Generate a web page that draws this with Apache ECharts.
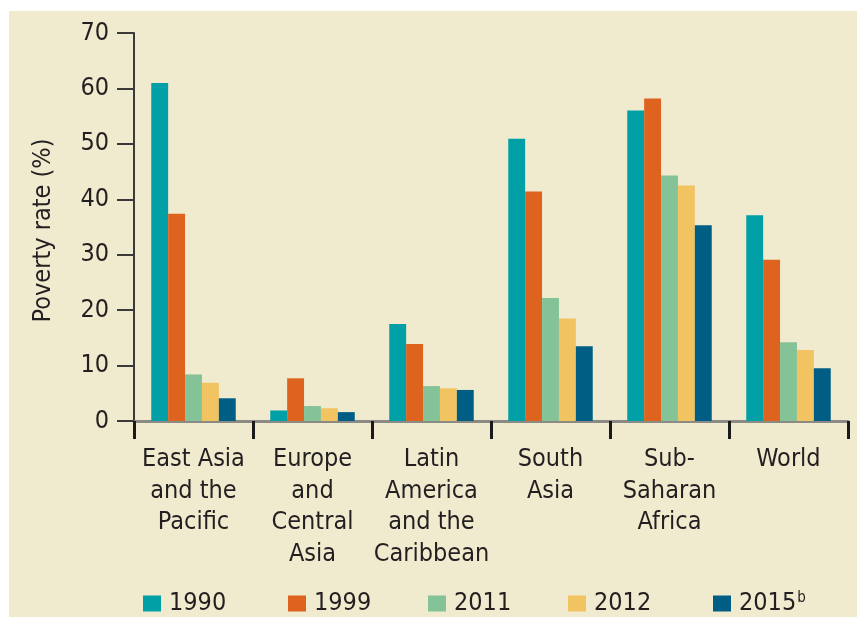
<!DOCTYPE html>
<html>
<head>
<meta charset="utf-8">
<script src="https://cdn.jsdelivr.net/npm/echarts@6/dist/echarts.min.js"></script>
<style>
html,body{margin:0;padding:0;background:#ffffff;}
#chart{width:857px;height:630px;}
</style>
</head>
<body>
<div id="chart"></div>
<script>
// ---- data ----
const categories = [
  'East Asia\nand the\nPacific',
  'Europe\nand\nCentral\nAsia',
  'Latin\nAmerica\nand the\nCaribbean',
  'South\nAsia',
  'Sub-\nSaharan\nAfrica',
  'World'
];
const years = ['1990', '1999', '2011', '2012', '2015'];
const v1990 = [61.0, 1.9, 17.5, 50.9, 56.0, 37.1];
const v1999 = [37.4, 7.7, 13.9, 41.4, 58.2, 29.1];
const v2011 = [8.4, 2.7, 6.3, 22.2, 44.3, 14.2];
const v2012 = [6.9, 2.3, 5.9, 18.5, 42.5, 12.8];
const v2015 = [4.1, 1.6, 5.6, 13.5, 35.3, 9.5];
const yMin = 0, yMax = 70, yStep = 10;
const yTitle = 'Poverty rate (%)';
const footnoteMark = 'b';

// ---- styling ----
const FONT = "'Liberation Sans Narrow', 'Arial Narrow', 'DejaVu Sans Condensed', 'Liberation Sans', sans-serif";
const FS = 25;
const TXT = '#231f20';
const colors = ['#00a0a6', '#dd631e', '#84c298', '#f2c361', '#005e85'];
const seriesValues = [v1990, v1999, v2011, v2012, v2015];
const legendLeft = [138, 283, 423, 563, 708];

const chart = echarts.init(document.getElementById('chart'), null, {renderer: 'canvas'});

const legends = years.map((y, i) => ({
  data: [y],
  left: legendLeft[i],
  top: 586,
  icon: 'rect',
  itemWidth: 18,
  itemHeight: 16,
  selectedMode: false,
  formatter: function (name) {
    return name === '2015' ? '{y|' + name + '}{s|' + footnoteMark + '}' : '{y|' + name + '}';
  },
  textStyle: {
    fontFamily: FONT,
    fontSize: FS,
    color: TXT,
    padding: [0, 0, 0, 3],
    rich: {
      y: {fontFamily: FONT, fontSize: FS, color: TXT},
      s: {fontFamily: FONT, fontSize: 15, color: TXT, verticalAlign: 'top', padding: [0, 0, 10, 1]}
    }
  }
}));

const option = {
  animation: false,
  backgroundColor: '#ffffff',
  color: colors,
  graphic: [{
    type: 'rect',
    z: -10,
    silent: true,
    shape: {x: 9, y: 11, width: 848, height: 606},
    style: {fill: '#f0eacf'}
  }],
  legend: legends,
  grid: {left: 134, right: 9, top: 33, bottom: 209, containLabel: false},
  xAxis: {
    type: 'category',
    data: categories,
    axisLine: {show: true, lineStyle: {color: '#8c8a84', width: 3}},
    axisTick: {show: true, length: 18, lineStyle: {color: '#1a1a1a', width: 3}},
    axisLabel: {
      interval: 0,
      margin: 23,
      fontFamily: FONT,
      fontSize: FS,
      lineHeight: 31.5,
      color: TXT,
      align: 'center'
    },
    splitLine: {show: false}
  },
  yAxis: {
    type: 'value',
    min: yMin,
    max: yMax,
    interval: yStep,
    name: yTitle,
    nameLocation: 'middle',
    nameGap: 78,
    nameTextStyle: {fontFamily: FONT, fontSize: FS, color: TXT, padding: [0, 7, 0, 0]},
    axisLine: {show: true, lineStyle: {color: '#3a3a3a', width: 2}},
    axisTick: {show: true, length: 17, lineStyle: {color: '#3a3a3a', width: 2}},
    axisLabel: {margin: 25, fontFamily: FONT, fontSize: FS, color: TXT},
    splitLine: {show: false}
  },
  series: years.map((y, i) => ({
    name: y,
    type: 'bar',
    data: seriesValues[i],
    barGap: '0%',
    barCategoryGap: '29%',
    itemStyle: {color: colors[i]}
  }))
};
chart.setOption(option);
</script>
</body>
</html>
